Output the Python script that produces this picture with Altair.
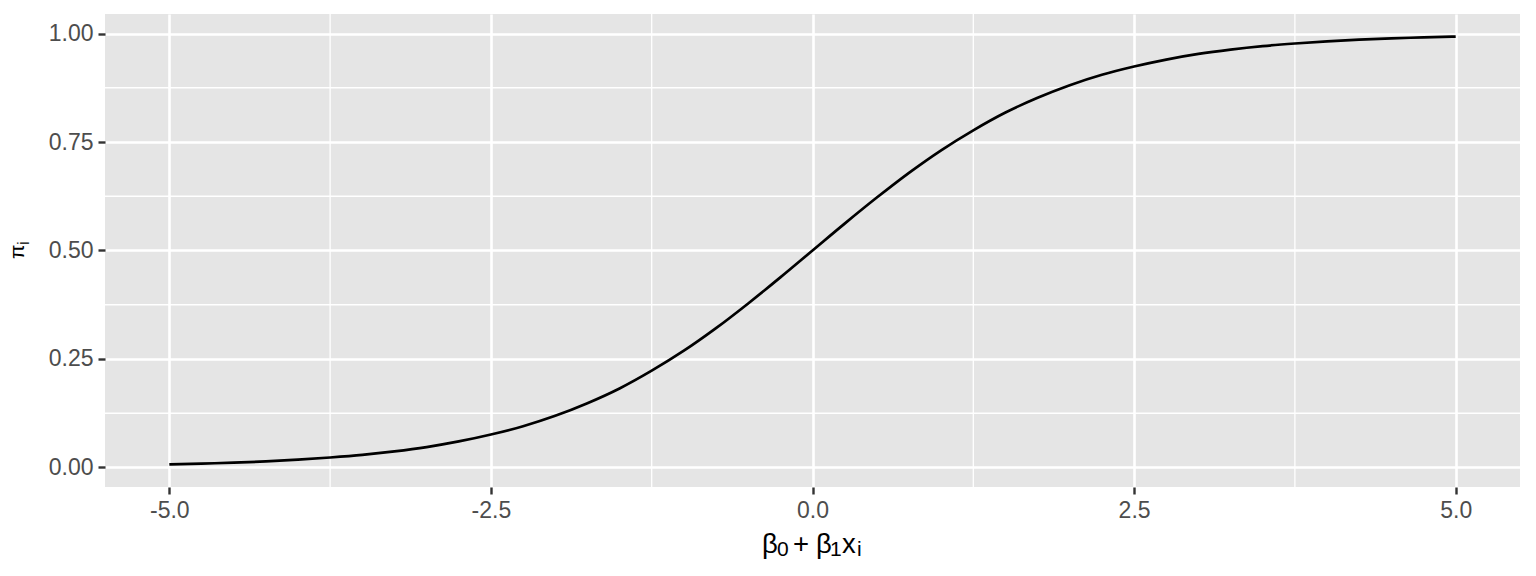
import altair as alt
import pandas as pd

# Values
x_vals = [-5.0, -4.75, -4.5, -4.25, -4.0, -3.75, -3.5, -3.25, -3.0, -2.75, -2.5,
          -2.25, -2.0, -1.75, -1.5, -1.25, -1.0, -0.75, -0.5, -0.25, 0.0,
          0.25, 0.5, 0.75, 1.0, 1.25, 1.5, 1.75, 2.0, 2.25, 2.5,
          2.75, 3.0, 3.25, 3.5, 3.75, 4.0, 4.25, 4.5, 4.75, 5.0]
pi_vals = [0.007, 0.009, 0.011, 0.014, 0.018, 0.023, 0.029, 0.037, 0.047, 0.060, 0.076,
           0.095, 0.119, 0.148, 0.182, 0.223, 0.269, 0.321, 0.378, 0.438, 0.500,
           0.562, 0.622, 0.679, 0.731, 0.777, 0.818, 0.852, 0.881, 0.905, 0.924,
           0.940, 0.953, 0.963, 0.971, 0.977, 0.982, 0.986, 0.989, 0.991, 0.993]

x_ticks = [-5.0, -2.5, 0.0, 2.5, 5.0]
y_ticks = [0.0, 0.25, 0.5, 0.75, 1.0]
x_minor = [-3.75, -1.25, 1.25, 3.75]
y_minor = [0.125, 0.375, 0.625, 0.875]

# Axis titles written as pieces (plotmath-like subscripts)
x_title_parts = ["β", "0", "+", "β", "1", "x", "i"]
x_title_sub = [False, True, False, False, True, False, True]
y_title_parts = ["π", "i"]

df = pd.DataFrame({"x": x_vals, "pi": pi_vals})
xm = pd.DataFrame({"x": x_minor})
ym = pd.DataFrame({"y": y_minor})

xscale = alt.Scale(domain=[-5.5, 5.5], nice=False, zero=False)
yscale = alt.Scale(domain=[-0.045, 1.045], nice=False, zero=False)

MINUS = "\u2212"
xaxis = alt.Axis(values=x_ticks, format=".1f", title=None,
                 labelExpr=f"replace(datum.label, '{MINUS}', '-')")
yaxis = alt.Axis(values=y_ticks, format=".2f", title=None)

minor_x = alt.Chart(xm).mark_rule(color="white", strokeWidth=1.3).encode(
    x=alt.X("x:Q", scale=xscale, axis=xaxis)
)
minor_y = alt.Chart(ym).mark_rule(color="white", strokeWidth=1.3).encode(
    y=alt.Y("y:Q", scale=yscale, axis=yaxis)
)
line = alt.Chart(df).mark_line(color="black", strokeWidth=2.7, interpolate="monotone").encode(
    x=alt.X("x:Q", scale=xscale, axis=xaxis),
    y=alt.Y("pi:Q", scale=yscale, axis=yaxis),
)

# title piece placement (pixels relative to the plot area)
x_title_left = [657, 672, 688, 711, 725, 737, 752]
MAIN, SUB = 27.5, 21
layers = [minor_x, minor_y, line]
one = pd.DataFrame({"k": [0]})
for txt, sub, px in zip(x_title_parts, x_title_sub, x_title_left):
    layers.append(
        alt.Chart(one).mark_text(
            align="left", baseline="alphabetic", font="Liberation Sans",
            fontSize=SUB if sub else MAIN, color="black",
        ).encode(text=alt.value(txt), x=alt.value(px), y=alt.value(542 if sub else 539))
    )
y_title_pos = [(-81, 245), (-76, 231)]
y_title_size = [21, 17]
for txt, (px, py), fs in zip(y_title_parts, y_title_pos, y_title_size):
    layers.append(
        alt.Chart(one).mark_text(
            align="left", baseline="alphabetic", font="Liberation Sans", angle=270,
            fontSize=fs, color="black",
        ).encode(text=alt.value(txt), x=alt.value(px), y=alt.value(py))
    )

chart = alt.layer(*layers).properties(
    width=1415, height=473,
    autosize=alt.AutoSizeParams(type="none"),
    padding={"left": 97, "top": 6, "right": 5, "bottom": 80},
).configure_view(
    fill="#E5E5E5", stroke=None
).configure_axis(
    grid=True, gridColor="white", gridWidth=2.6,
    domain=False, ticks=True, tickColor="#333333", tickWidth=2.4, tickSize=7,
    labelColor="#4D4D4D", labelFont="Liberation Sans", labelFontSize=23,
    labelPadding=5,
)

chart.save("out.html", embed_options={"renderer": "svg", "actions": False})
